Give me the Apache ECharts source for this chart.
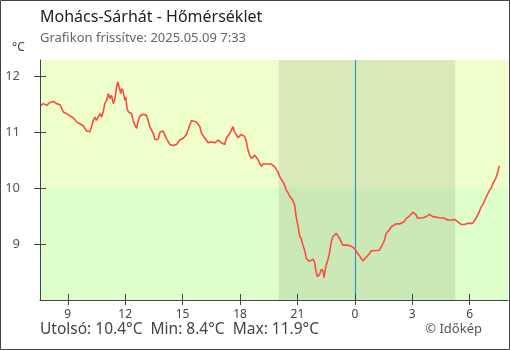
<!DOCTYPE html>
<html>
<head>
<meta charset="utf-8">
<script src="https://cdn.jsdelivr.net/npm/echarts@6/dist/echarts.min.js"></script>
<style>
  html, body { margin: 0; padding: 0; background: #fff; }
  #chart { width: 510px; height: 350px; }
</style>
</head>
<body>
<div id="chart"></div>
<script>
// Temperature readings, Mohács-Sárhát, last 24 hours
const times = [
  "07:33","07:43","07:54","08:04","08:15","08:25","08:36","08:46","08:57","09:07",
  "09:17","09:28","09:38","09:49","09:59","10:10","10:15","10:20","10:25","10:30",
  "10:41","10:46","10:51","10:56","11:02","11:07","11:12","11:17","11:23","11:28",
  "11:33","11:37","11:41","11:46","11:49","11:54","11:59","12:02","12:06","12:10",
  "12:20","12:25","12:30","12:36","12:41","12:46","12:56","13:07","13:12","13:17",
  "13:23","13:28","13:33","13:38","13:43","13:49","13:59","14:04","14:09","14:15",
  "14:20","14:30","14:41","14:51","15:02","15:07","15:12","15:17","15:22","15:28",
  "15:33","15:43","15:49","15:54","15:59","16:04","16:09","16:20","16:30","16:41",
  "16:51","17:02","17:12","17:17","17:22","17:28","17:33","17:38","17:43","17:49",
  "17:54","18:04","18:15","18:20","18:25","18:30","18:36","18:41","18:46","18:56",
  "19:02","19:07","19:12","19:28","19:38","19:43","19:49","19:54","19:59","20:04",
  "20:09","20:15","20:20","20:25","20:30","20:35","20:41","20:46","20:51","20:56",
  "21:02","21:07","21:12","21:17","21:22","21:28","21:33","21:38","21:43","21:49",
  "21:54","21:57","22:02","22:06","22:09","22:15","22:18","22:21","22:23","22:27",
  "22:30","22:36","22:41","22:46","22:51","22:56","23:02","23:07","23:12","23:17",
  "23:22","23:28","23:38","23:49","23:54","23:59","00:04","00:09","00:15","00:20",
  "00:25","00:30","00:35","00:41","00:46","00:51","00:56","01:17","01:22","01:28",
  "01:33","01:38","01:43","01:49","01:54","01:59","02:09","02:20","02:25","02:35",
  "02:41","02:46","02:51","02:56","03:02","03:07","03:12","03:17","03:22","03:33",
  "03:43","03:49","03:54","04:04","04:09","04:25","04:41","04:51","05:02","05:12",
  "05:22","05:28","05:33","05:43","05:54","06:09","06:15","06:20","06:25","06:30",
  "06:35","06:41","06:46","06:51","06:56","07:01","07:07","07:12","07:17","07:22",
  "07:28","07:33"
];
const temps = [
  11.47,11.51,11.48,11.53,11.55,11.51,11.49,11.36,11.33,11.29,
  11.26,11.18,11.15,11.11,11.02,11.01,11.04,11.21,11.27,11.21,
  11.33,11.27,11.36,11.51,11.57,11.69,11.60,11.66,11.51,11.60,
  11.81,11.90,11.87,11.69,11.78,11.72,11.57,11.63,11.42,11.36,
  11.33,11.21,11.13,11.07,11.21,11.29,11.32,11.30,11.21,11.10,
  11.07,10.98,10.87,10.84,10.87,11.00,11.02,10.99,10.89,10.83,
  10.78,10.76,10.78,10.86,10.89,10.92,10.96,11.04,11.12,11.21,
  11.23,11.18,11.18,11.10,10.98,10.95,10.90,10.81,10.83,10.81,
  10.86,10.81,10.78,10.89,10.92,10.98,11.04,11.10,11.00,10.95,
  10.90,10.96,10.92,10.83,10.68,10.59,10.53,10.56,10.59,10.51,
  10.44,10.39,10.43,10.43,10.43,10.41,10.38,10.33,10.29,10.21,
  10.16,10.11,10.05,9.96,9.92,9.86,9.82,9.77,9.70,9.49,
  9.31,9.14,9.10,8.98,8.90,8.74,8.71,8.69,8.69,8.73,
  8.67,8.55,8.42,8.41,8.45,8.55,8.57,8.51,8.40,8.40,
  8.62,8.73,8.86,9.04,9.13,9.16,9.19,9.16,9.10,9.04,
  8.98,8.96,8.98,8.96,8.95,8.92,8.89,8.83,8.79,8.74,
  8.70,8.70,8.76,8.79,8.83,8.88,8.89,8.89,8.92,9.01,
  9.07,9.19,9.22,9.26,9.31,9.34,9.36,9.36,9.37,9.40,
  9.46,9.48,9.50,9.52,9.57,9.55,9.52,9.46,9.43,9.47,
  9.49,9.52,9.53,9.49,9.46,9.47,9.46,9.43,9.43,9.44,
  9.40,9.37,9.35,9.35,9.37,9.37,9.40,9.46,9.52,9.58,
  9.65,9.71,9.77,9.83,9.89,9.95,10.00,10.07,10.13,10.18,
  10.29,10.40
];
// Hour tick labels (hours of the day, continuing past midnight)
const hourTicks = [9, 12, 15, 18, 21, 24, 27, 30];
const tempTicks = [9, 10, 11, 12];
// Night period (sunset, sunrise) and the end of the time window
const night = ["20:01", "05:15"];
const axisEnd = "08:00";
const MIDNIGHT = 24;
const Y_MIN = 8, Y_MAX = 12.29, THRESHOLD = 10;

const title = "Mohács-Sárhát - Hőmérséklet";
const subtitle = "Grafikon frissítve: 2025.05.09 7:33";
const footer = "Utolsó: 10.4°C  Min: 8.4°C  Max: 11.9°C";
const credit = "© Időkép";

// "HH:MM" strings -> continuous hours, adding a day after midnight
function toHours(list) {
  let day = 0, prev = -1;
  return list.map(s => {
    const [h, m] = s.split(':').map(Number);
    const v = h + m / 60;
    if (v < prev) day += 24;
    prev = v;
    return v + day;
  });
}
const hours = toHours(times);
const seriesData = hours.map((h, i) => [h, temps[i]]);
const marks = toHours([times[0], night[0], night[1], axisEnd]);
const xMin = hours[0];
const nightH = [marks[1], marks[2]];
const xMax = marks[3];

const FONT = "'Noto Sans', 'Open Sans', sans-serif";
const AXIS_COLOR = '#444';
const MIDNIGHT_COLOR = '#2f95d0';
const chart = echarts.init(document.getElementById('chart'), null, { renderer: 'canvas' });

const baseX = { type: 'value', min: xMin, max: xMax, gridIndex: 0, position: 'bottom', z: 10 };
const baseY = { type: 'value', min: Y_MIN, max: Y_MAX, gridIndex: 0, position: 'left', z: 10 };

chart.setOption({
  animation: false,
  backgroundColor: '#fff',
  grid: { left: 40, right: 2, top: 60, bottom: 50, containLabel: false },
  xAxis: [
    Object.assign({}, baseX, {
      axisLine: { show: true, onZero: false, lineStyle: { color: AXIS_COLOR, width: 1 } },
      axisTick: { show: true, length: 5, customValues: hourTicks, lineStyle: { color: AXIS_COLOR } },
      axisLabel: {
        show: true, customValues: hourTicks, margin: 9,
        color: '#444', fontSize: 12, fontFamily: FONT,
        formatter: v => String(Math.round(v) % 24)
      },
      splitLine: { show: false }
    }),
    Object.assign({}, baseX, {
      offset: 0,
      axisLine: { show: false, onZero: false },
      axisTick: { show: true, inside: true, length: 6, customValues: hourTicks, lineStyle: { color: AXIS_COLOR } },
      axisLabel: { show: false },
      splitLine: { show: false }
    })
  ],
  yAxis: [
    Object.assign({}, baseY, {
      axisLine: { show: true, onZero: false, lineStyle: { color: AXIS_COLOR, width: 1 } },
      axisTick: { show: true, length: 6, customValues: tempTicks, lineStyle: { color: AXIS_COLOR } },
      axisLabel: {
        show: true, customValues: tempTicks, margin: 20,
        color: '#555', fontSize: 13, fontFamily: FONT
      },
      splitLine: { show: false }
    }),
    Object.assign({}, baseY, {
      offset: 0,
      axisLine: { show: false, onZero: false },
      axisTick: { show: true, inside: true, length: 6, customValues: tempTicks, lineStyle: { color: AXIS_COLOR } },
      axisLabel: { show: false },
      splitLine: { show: false }
    })
  ],
  series: [{
    type: 'line',
    xAxisIndex: 0,
    yAxisIndex: 0,
    data: seriesData,
    showSymbol: false,
    symbol: 'none',
    lineStyle: { color: '#ff4a3f', width: 1.6 },
    silent: true,
    z: 5,
    markArea: {
      silent: true,
      data: [
        [{ yAxis: THRESHOLD, itemStyle: { color: '#eeffcc', opacity: 1 } }, { yAxis: Y_MAX }],
        [{ yAxis: Y_MIN, itemStyle: { color: '#ddffcc', opacity: 1 } }, { yAxis: THRESHOLD }],
        [{ xAxis: nightH[0], itemStyle: { color: 'rgba(40,40,0,0.1)', opacity: 1 } }, { xAxis: nightH[1] }]
      ]
    },
    markLine: {
      silent: true,
      symbol: ['none', 'none'],
      label: { show: false },
      itemStyle: { color: MIDNIGHT_COLOR },
      lineStyle: { color: MIDNIGHT_COLOR, width: 1.2, type: 'solid', opacity: 1 },
      emphasis: { disabled: true },
      data: [{ xAxis: MIDNIGHT, lineStyle: { color: MIDNIGHT_COLOR, width: 1.2, type: 'solid' } }]
    }
  }],
  graphic: [
    { type: 'rect', silent: true, z: 100,
      shape: { x: 0.5, y: 0.5, width: 509, height: 349 },
      style: { fill: null, stroke: '#444', lineWidth: 1 } },
    { type: 'text', left: 40, top: 9,
      style: { text: title, font: `16px ${FONT}`, fill: '#222' } },
    { type: 'text', left: 40, top: 32,
      style: { text: subtitle, font: `13px ${FONT}`, fill: '#666' } },
    { type: 'text', left: 12, top: 42,
      style: { text: '°C', font: `12px ${FONT}`, fill: '#444' } },
    { type: 'text', left: 40, top: 322,
      style: { text: footer, font: `15.5px ${FONT}`, fill: '#444' } },
    { type: 'text', right: 28, top: 323,
      style: { text: credit, font: `13px ${FONT}`, fill: '#555' } }
  ]
});
</script>
</body>
</html>
